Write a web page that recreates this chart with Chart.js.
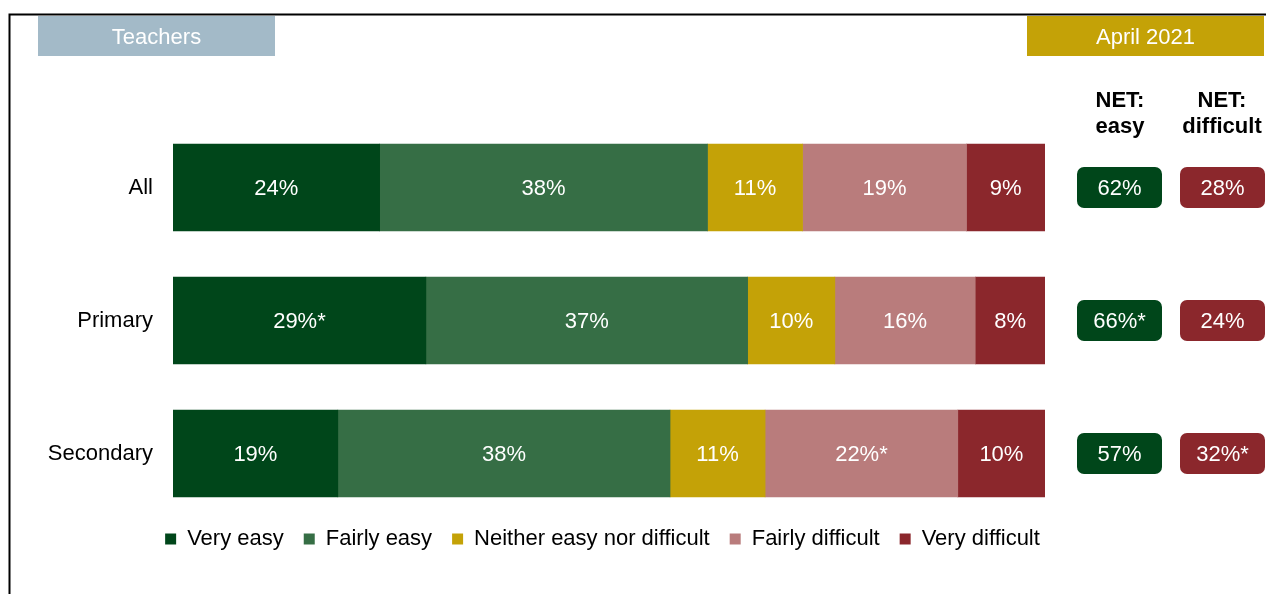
<!DOCTYPE html>
<html>
<head>
<meta charset="utf-8">
<script src="https://cdn.jsdelivr.net/npm/chart.js@4/dist/chart.umd.min.js"></script>
<style>
    html, body { margin: 0; background: #fff; }
    canvas { display: block; }
</style>
</head>
<body>
<canvas id="chart" width="1266" height="594"></canvas>
<script>
    const categories = ["All", "Primary", "Secondary"];
    const seriesNames = ["Very easy", "Fairly easy", "Neither easy nor difficult", "Fairly difficult", "Very difficult"];
    const seriesColors = ["#00461a", "#366e45", "#c4a207", "#b97c7c", "#8b272c"];

    // widths (percent of the full bar)
    const veryEasy = [23.7, 29.0, 18.9];
    const fairlyEasy = [37.6, 36.9, 38.1];
    const neither = [10.9, 10.0, 10.9];
    const fairlyDifficult = [18.8, 16.1, 22.1];
    const veryDifficult = [9.0, 8.0, 10.0];

    // printed labels
    const veryEasyLabels = ["24%", "29%*", "19%"];
    const fairlyEasyLabels = ["38%", "37%", "38%"];
    const neitherLabels = ["11%", "10%", "11%"];
    const fairlyDifficultLabels = ["19%", "16%", "22%*"];
    const veryDifficultLabels = ["9%", "8%", "10%"];

    const netEasy = ["62%", "66%*", "57%"];
    const netDifficult = ["28%", "24%", "32%*"];

    const FONT = "'Liberation Sans', Arial, sans-serif";
    const SIZE = 22;

    const values = [veryEasy, fairlyEasy, neither, fairlyDifficult, veryDifficult];
    const labels = [veryEasyLabels, fairlyEasyLabels, neitherLabels, fairlyDifficultLabels, veryDifficultLabels];

    Chart.defaults.font.family = FONT;
    Chart.defaults.color = "#000";

    function pill(ctx, cx, cy, w, h, r, color, text) {
        ctx.fillStyle = color;
        ctx.beginPath();
        ctx.roundRect(cx - w / 2, cy - h / 2, w, h, r);
        ctx.fill();
        ctx.fillStyle = "#fff";
        ctx.fillText(text, cx, cy + 1);
    }

    // frame, header boxes and NET column titles
    const decorations = {
        id: "decorations",
        beforeDraw(chart) {
            const ctx = chart.ctx;
            ctx.save();
            ctx.strokeStyle = "#000";
            ctx.lineWidth = 2;
            ctx.beginPath();
            ctx.moveTo(9.5, 594);
            ctx.lineTo(9.5, 14.5);
            ctx.lineTo(1266, 14.5);
            ctx.stroke();

            ctx.textAlign = "center";
            ctx.textBaseline = "middle";
            ctx.font = SIZE + "px " + FONT;
            ctx.fillStyle = "#a3bac8";
            ctx.fillRect(38, 16, 237, 40);
            ctx.fillStyle = "#c4a207";
            ctx.fillRect(1027, 16, 237, 40);
            ctx.fillStyle = "#fff";
            ctx.fillText("Teachers", 156.5, 38);
            ctx.fillText("April 2021", 1145.5, 38);

            ctx.fillStyle = "#000";
            ctx.font = "bold " + SIZE + "px " + FONT;
            ctx.fillText("NET:", 1120, 101);
            ctx.fillText("easy", 1120, 127);
            ctx.fillText("NET:", 1222, 101);
            ctx.fillText("difficult", 1222, 127);
            ctx.restore();
        },
        afterLayout(chart) {
            // legend sits under the bars, centred on them
            const lg = chart.legend;
            lg.top -= 12;
            lg.bottom -= 12;
            lg.left += 80;
            lg.right += 80;
        },
        afterDatasetsDraw(chart) {
            const ctx = chart.ctx;
            ctx.save();
            ctx.font = SIZE + "px " + FONT;
            ctx.textAlign = "center";
            ctx.textBaseline = "middle";
            ctx.fillStyle = "#fff";
            chart.data.datasets.forEach((ds, i) => {
                chart.getDatasetMeta(i).data.forEach((bar, j) => {
                    const { x, base, y } = bar.getProps(["x", "base", "y"], true);
                    ctx.fillText(labels[i][j], (x + base) / 2, y + 1);
                });
            });
            const yScale = chart.scales.y;
            categories.forEach((c, j) => {
                const y = yScale.getPixelForValue(j);
                pill(ctx, 1119.5, y, 85, 41, 7, seriesColors[0], netEasy[j]);
                pill(ctx, 1222.5, y, 85, 41, 7, seriesColors[4], netDifficult[j]);
            });
            ctx.restore();
        }
    };

    new Chart(document.getElementById("chart"), {
        type: "bar",
        data: {
            labels: categories,
            datasets: seriesNames.map((name, i) => ({
                label: name,
                data: values[i],
                backgroundColor: seriesColors[i],
                borderWidth: 0,
                barThickness: 87
            }))
        },
        options: {
            indexAxis: "y",
            responsive: false,
            animation: false,
            layout: { padding: { top: 121, right: 221, bottom: 22, left: 0 } },
            plugins: {
                legend: {
                    position: "bottom",
                    labels: {
                        boxWidth: 11,
                        boxHeight: 11,
                        padding: 20,
                        color: "#000",
                        font: { size: SIZE }
                    }
                },
                tooltip: { enabled: false }
            },
            scales: {
                x: { stacked: true, display: false, min: 0, max: 100 },
                y: {
                    stacked: true,
                    grid: { display: false, drawTicks: false },
                    border: { display: false },
                    ticks: { color: "#000", font: { size: SIZE }, padding: 20 },
                    afterFit: scale => { scale.width = 173; }
                }
            }
        },
        plugins: [decorations]
    });
</script>
</body>
</html>
